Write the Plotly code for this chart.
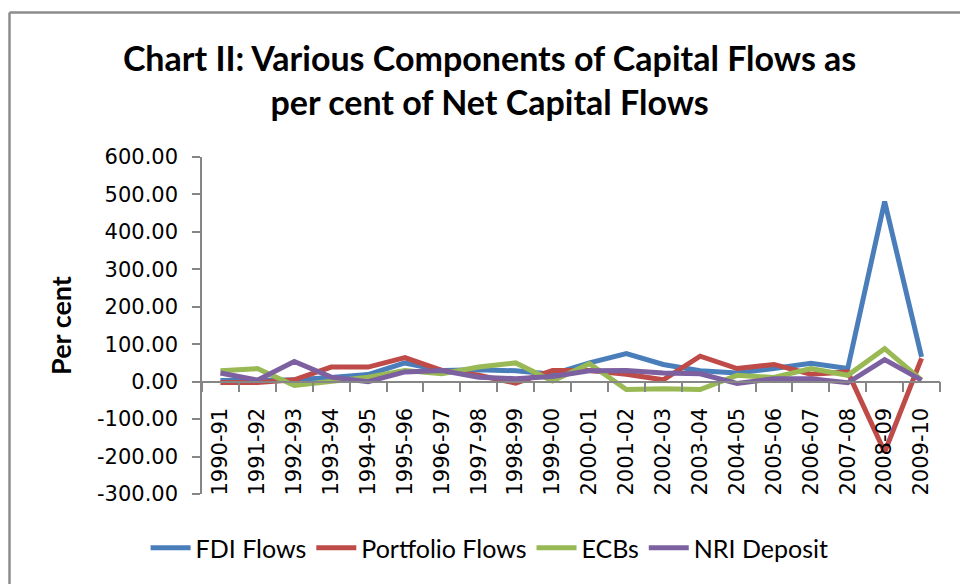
import plotly.graph_objects as go

years = ["1990-91", "1991-92", "1992-93", "1993-94", "1994-95", "1995-96", "1996-97",
         "1997-98", "1998-99", "1999-00", "2000-01", "2001-02", "2002-03", "2003-04",
         "2004-05", "2005-06", "2006-07", "2007-08", "2008-09", "2009-10"]
fdi_flows = [3, 4, 5, 11, 19, 50, 30, 32, 29, 20, 50, 75, 46, 29, 23, 35, 49, 35, 481, 66]
portfolio_flows = [-2, -2, 5, 39, 39, 64, 30, 17, -4, 30, 30, 20, 5, 68, 35, 46, 20, 26, -188, 62]
ecbs = [29, 35, -10, 1, 12, 30, 21, 39, 50, 2, 48, -21, -19, -21, 17, 11, 35, 17, 88, 4]
nri_deposit = [23, 4, 54, 12, 0, 26, 30, 12, 8, 14, 29, 30, 23, 21, -5, 8, 8, -3, 59, 4]
y_ticks = [-300, -200, -100, 0, 100, 200, 300, 400, 500, 600]
y_tick_labels = ["-300.00", "-200.00", "-100.00", "0.00", "100.00", "200.00",
                 "300.00", "400.00", "500.00", "600.00"]

series = [
    ("FDI Flows", fdi_flows, "#4A7EBB"),
    ("Portfolio Flows", portfolio_flows, "#BE4B48"),
    ("ECBs", ecbs, "#98B954"),
    ("NRI Deposit", nri_deposit, "#7D60A0"),
]

fig = go.Figure()
for name, vals, color in series:
    fig.add_trace(go.Scatter(x=years, y=vals, name=name, mode="lines",
                             line=dict(color=color, width=5)))

W, H = 960, 584
L, R, T, B = 202, 20, 157, 90
pw, ph = W - L - R, H - T - B

def px(x):
    return (x - L) / pw

def py(y):
    return (H - B - y) / ph

axis_gray = "#868686"
fig.update_layout(
    width=W, height=H,
    margin=dict(l=L, r=R, t=T, b=B, autoexpand=False),
    paper_bgcolor="white", plot_bgcolor="white",
    showlegend=True,
    title=dict(
        text="Chart II: Various Components of Capital Flows as<br>per cent of Net Capital Flows",
        x=0.51, xanchor="center", y=1 - 71 / H, yanchor="top",
        font=dict(family="Lato", size=34, color="black", weight="bold"),
    ),
    legend=dict(orientation="h", x=0.51, xanchor="center", y=1 - 548 / H, yanchor="middle",
                xref="container", yref="container",
                font=dict(family="Lato", size=25, color="black"),
                entrywidth=0, itemwidth=40),
    xaxis=dict(
        type="category", range=[-0.5, len(years) - 0.5],
        anchor="free", position=300 / 900, automargin=False,
        showline=True, linecolor=axis_gray, linewidth=1.5,
        ticks="outside", tickson="boundaries", ticklen=10, tickcolor=axis_gray, tickwidth=1.5,
        tickangle=-90, tickfont=dict(family="DejaVu Sans", size=21, color="black"),
        ticklabelstandoff=17,
        showgrid=False, zeroline=False,
    ),
    yaxis=dict(
        range=[-300, 600], tickvals=y_ticks, ticktext=y_tick_labels, automargin=False,
        showline=True, linecolor=axis_gray, linewidth=1.5,
        ticks="outside", ticklen=8, tickcolor=axis_gray, tickwidth=1.5,
        tickfont=dict(family="DejaVu Sans", size=21, color="black"),
        ticklabelstandoff=10,
        showgrid=False, zeroline=False,
        title=dict(text="Per cent", font=dict(family="Lato", size=27, color="black", weight="bold"),
                   standoff=18),
    ),
    shapes=[
        dict(type="line", xref="paper", yref="paper", x0=px(9.5), x1=px(962), y0=py(12.5), y1=py(12.5),
             line=dict(color="#8C8C8C", width=2.5)),
        dict(type="line", xref="paper", yref="paper", x0=px(9.5), x1=px(9.5), y0=py(12.5), y1=py(590),
             line=dict(color="#8C8C8C", width=2.5)),
    ],
)

fig.write_html("out.html")
